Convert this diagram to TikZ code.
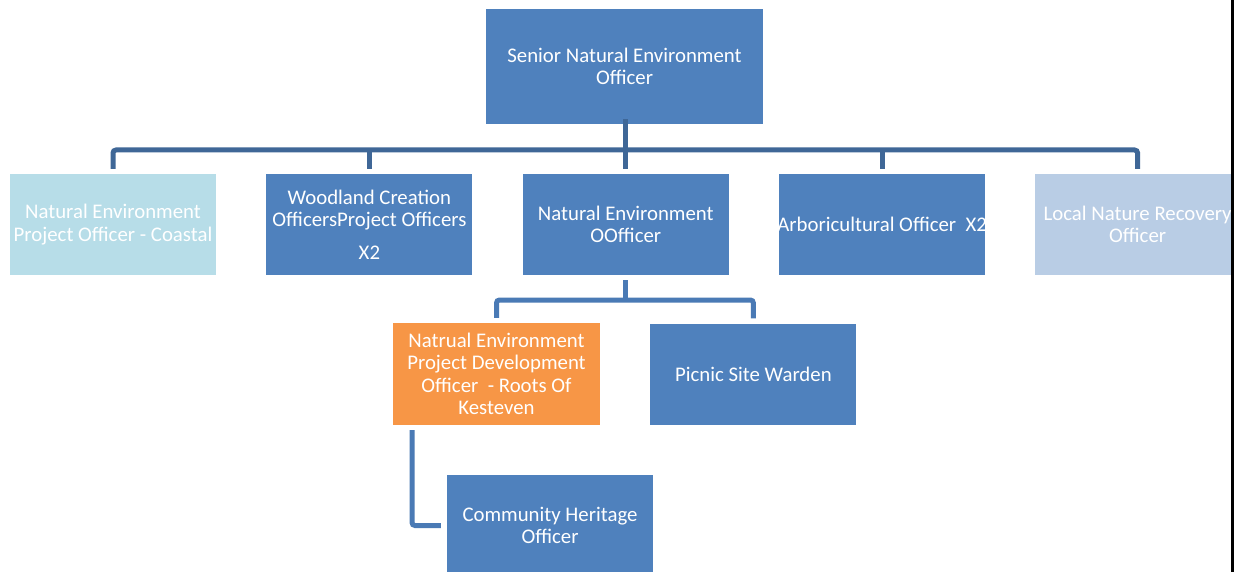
\documentclass[tikz,border=0pt]{standalone}
\usepackage{fontspec}
\setmainfont{Carlito}
\usepackage{tikz}
\usetikzlibrary{positioning}
\definecolor{boxBlue}{HTML}{4F81BD}
\definecolor{boxAqua}{HTML}{B7DDE8}
\definecolor{boxPale}{HTML}{B9CDE5}
\definecolor{boxOrange}{HTML}{F79646}
\definecolor{lineTop}{HTML}{3F6797}
\definecolor{lineMid}{HTML}{4A7AB5}
\tikzstyle{post} = [rectangle, fill=boxBlue, text=white, minimum width=206pt, minimum height=101pt, inner sep=0pt, align=center, font=\fontsize{20.8}{22.5}\selectfont]
\tikzstyle{link} = [line width=5pt, rounded corners=3pt, line cap=butt]
\begin{document}
\begin{tikzpicture}[x=1pt, y=-1pt, node distance=50pt]
\useasboundingbox (0,0) rectangle (1237,572);
\fill[white] (0,0) rectangle (1237,572);
\begin{scope}
\clip (0,0) rectangle (1231,572);
%----------------------------------------------------------------------------
% Placement of chart nodes
\node (senior) [post, minimum width=277pt, minimum height=115pt] at (624.5,66.5) {Senior Natural Environment\\Officer};

% first row
\node (coastal) [post, fill=boxAqua] at (113,224.5) {Natural Environment\\Project Officer - Coastal};
\node (woodland) [post, right = of coastal] {Woodland Creation\\OfficersProject Officers\\[10pt]X2};
\node (neOfficer) [post, right = of woodland] {Natural Environment\\OOfficer};
\node (arbor) [post, right = of neOfficer] {\makebox[200pt][c]{Arboricultural Officer\ \ X2}};
\node (localNature) [post, fill=boxPale, right = 49pt of arbor] {Local Nature Recovery\\Officer};

% second row
\node (natrual) [post, fill=boxOrange, minimum width=207pt, minimum height=102pt] at (496.5,374) {Natrual Environment\\Project Development\\Officer\ \ - Roots Of\\Kesteven};
\node (picnic) [post, right = of natrual] {Picnic Site Warden};

% third row
\node (community) [post] at (550,525.5) {Community Heritage\\Officer};

%----------------------------------------------------------------------------
% Drawing of connector lines
\coordinate (busTop) at (625,150);
\coordinate (busMid) at (625,300);

\draw [link, lineTop] ([yshift=5pt]neOfficer.north) -- ([yshift=5pt]neOfficer.north |- senior.south);
\draw [link, lineTop] ([yshift=5pt]coastal.north) |- (busTop) -| ([yshift=5pt]localNature.north);
\draw [link, lineTop] ([yshift=5pt]woodland.north) -- (woodland.north |- busTop);
\draw [link, lineTop] ([yshift=5pt]arbor.north) -- (arbor.north |- busTop);

\draw [link, lineMid] ([yshift=-5pt]neOfficer.south) -- (neOfficer.south |- busMid);
\draw [link, lineMid] ([yshift=5pt]natrual.north) |- (busMid) -| ([yshift=5pt]picnic.north);

\draw [link, lineMid] ([xshift=-84.5pt, yshift=-5pt]natrual.south) |- ([xshift=-6pt]community.west);
\end{scope}

% page edge
\draw [line width=3pt, black] (1232.5,0) -- (1232.5,572);
\end{tikzpicture}
\end{document}
